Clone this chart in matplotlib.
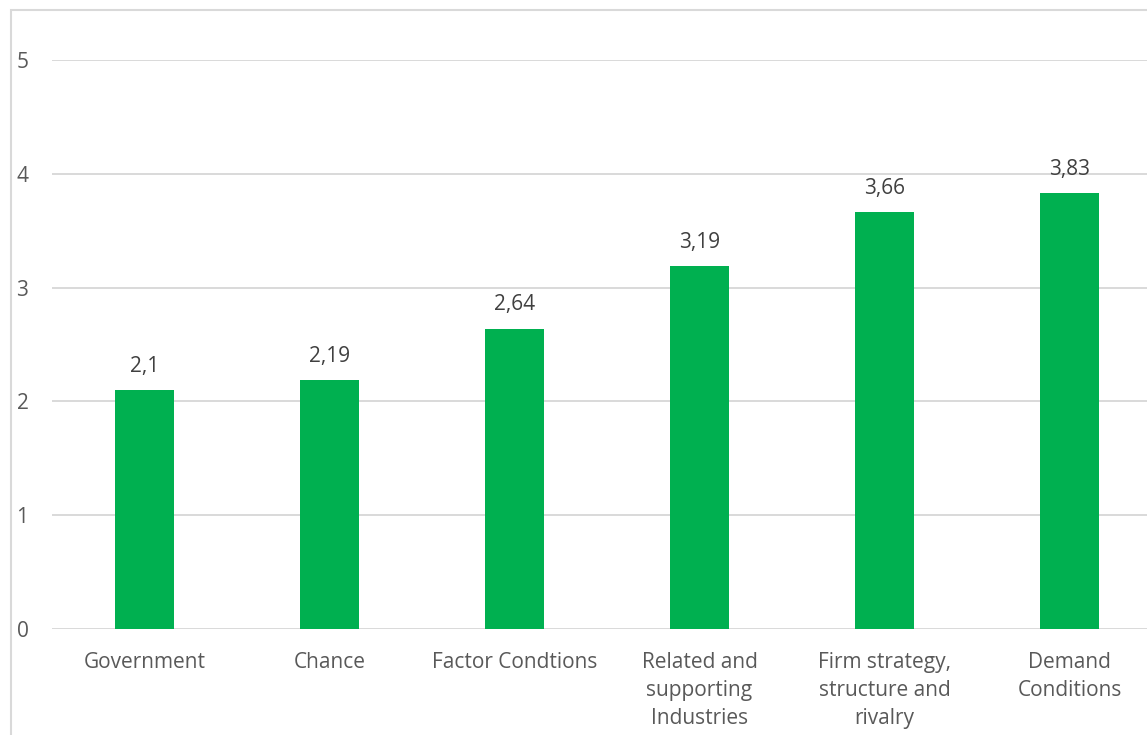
import matplotlib
matplotlib.use("Agg")
import matplotlib.pyplot as plt
from matplotlib.patches import Rectangle

categories = [
    "Government",
    "Chance",
    "Factor Condtions",
    "Related and\nsupporting\nIndustries",
    "Firm strategy,\nstructure and\nrivalry",
    "Demand\nConditions",
]
scores = [2.1, 2.19, 2.64, 3.19, 3.66, 3.83]
y_ticks = [0, 1, 2, 3, 4, 5]

GREEN = "#00B050"
GRID = "#D9D9D9"
TEXT = "#595959"

plt.rcParams["font.family"] = ["Open Sans", "DejaVu Sans"]

W, H = 1147, 735
fig = plt.figure(figsize=(W / 100, H / 100), dpi=100)

# chart frame, runs off the right and bottom edges
fig.patches.append(Rectangle((11 / W, -0.1), 1.2, 1.1 - 10 / H,
                             transform=fig.transFigure, fill=False,
                             edgecolor=GRID, linewidth=1.5))

ax = fig.add_axes([52 / W, 106 / H, 1110 / W, 569 / H])
x = list(range(len(categories)))
ax.bar(x, scores, width=0.315, color=GREEN, zorder=3)

for xi, v in zip(x, scores):
    ax.annotate(f"{v:g}".replace(".", ","), (xi, v), xytext=(0, 9.5),
                textcoords="offset points", ha="center", va="bottom",
                fontsize=15, color="#404040")

ax.set_xlim(-0.5, len(categories) - 0.5)
ax.set_ylim(0, 5)
ax.set_yticks(y_ticks)
ax.set_yticklabels([str(t) for t in y_ticks])
ax.set_xticks(x)
ax.set_xticklabels(categories, linespacing=1.45)
ax.tick_params(axis="y", length=0, pad=17, labelsize=15, labelcolor=TEXT)
ax.tick_params(axis="x", length=0, pad=16.5, labelsize=15, labelcolor=TEXT)
ax.grid(axis="y", color=GRID, linewidth=1.4, zorder=0)
for s in ax.spines.values():
    s.set_visible(False)

fig.savefig("out.png", dpi=100)
